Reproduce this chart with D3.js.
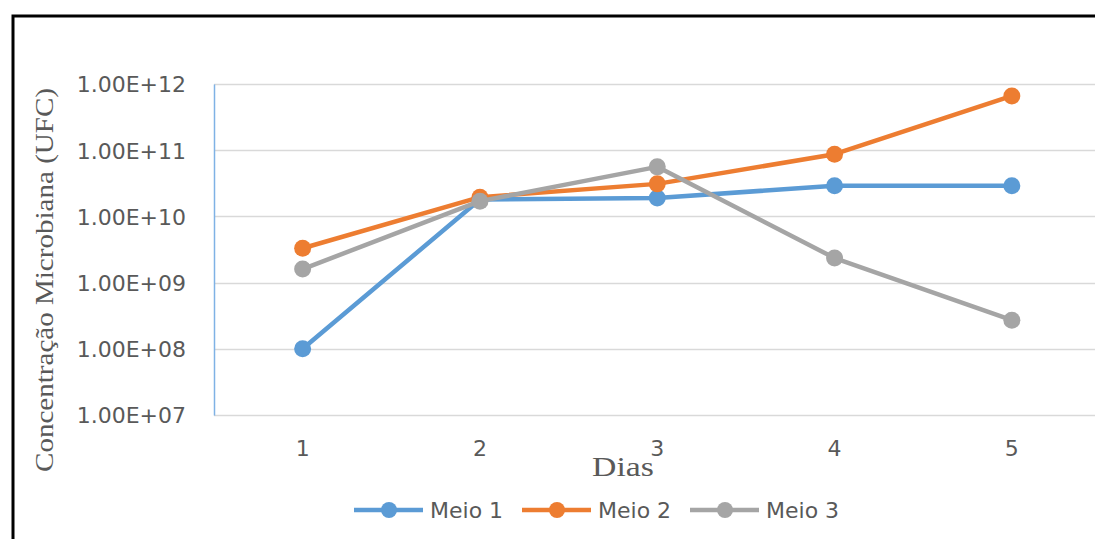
<!DOCTYPE html>
<html lang="pt">
<head>
	<meta charset="UTF-8">
	<title>Concentração Microbiana</title>
	<script src="https://cdn.jsdelivr.net/npm/d3@7"></script>
	<style>
		body { margin: 0; background: #fff; }
	</style>
</head>
<body>
	<svg id="svg"></svg>
	<script>
		var days = ["1", "2", "3", "4", "5"];
		var meio1 = [1.0e8, 1.8e10, 1.9e10, 2.9e10, 2.9e10];
		var meio2 = [3.3e9, 1.95e10, 3.1e10, 8.7e10, 6.6e11];
		var meio3 = [1.6e9, 1.7e10, 5.6e10, 2.35e9, 2.7e8];
		var yTicks = [1e7, 1e8, 1e9, 1e10, 1e11, 1e12];
		var seriesNames = ["Meio 1", "Meio 2", "Meio 3"];
		var colors = ["#5B9BD5", "#ED7D31", "#A5A5A5"];

		var w = 1095, h = 539;
		var svg = d3.select("#svg").attr("width", w).attr("height", h);
		var sans = "DejaVu Sans, Verdana, sans-serif",
			serif = "Liberation Serif, Times New Roman, serif",
			textColor = "#595959";

		// frame of the copied chart
		svg.append("rect")
			.attr("x", 13).attr("y", 16)
			.attr("width", 1200).attr("height", 600)
			.attr("fill", "none").attr("stroke", "#000").attr("stroke-width", 3);

		var plotLeft = 214, plotTop = 84, plotBottom = 415;
		var x = d3.scaleBand().domain(days).range([plotLeft, plotLeft + 5 * 177.3]);
		var y = d3.scaleLog().domain([1e7, 1e12]).range([plotBottom, plotTop]);

		// grid
		svg.append("g")
			.selectAll("line")
			.data(yTicks)
			.enter().append("line")
			.attr("x1", plotLeft).attr("x2", w)
			.attr("y1", function(d) { return Math.round(y(d)) + 0.5; })
			.attr("y2", function(d) { return Math.round(y(d)) + 0.5; })
			.attr("stroke", "#d9d9d9").attr("stroke-width", 1.3);

		var yAxis = svg.append("g")
			.attr("transform", "translate(" + plotLeft + ",0)")
			.call(d3.axisLeft(y).tickValues(yTicks).tickSize(0).tickPadding(28)
				.tickFormat(function(d) { return d.toExponential(2).toUpperCase().replace(/E\+(\d)$/, "E+0$1"); }));
		yAxis.select(".domain").attr("stroke", "#7fb2e5").attr("stroke-width", 1.5);
		yAxis.selectAll(".tick text")
			.attr("font-family", sans).attr("font-size", 22)
			.attr("fill", textColor).attr("dy", "0.36em");

		var xAxis = svg.append("g")
			.attr("transform", "translate(0," + plotBottom + ")")
			.call(d3.axisBottom(x).tickSize(0).tickPadding(25));
		xAxis.select(".domain").remove();
		xAxis.selectAll(".tick text")
			.attr("font-family", sans).attr("font-size", 22).attr("fill", textColor);

		// axis titles
		svg.append("text")
			.attr("transform", "translate(623,476) scale(1.25,1)")
			.attr("text-anchor", "middle")
			.attr("font-family", serif)
			.attr("font-size", 27).attr("fill", textColor)
			.text("Dias");
		svg.append("text")
			.attr("transform", "translate(53,280) rotate(-90)")
			.attr("text-anchor", "middle")
			.attr("font-family", serif)
			.attr("font-size", 26).attr("fill", textColor)
			.attr("textLength", 384).attr("lengthAdjust", "spacingAndGlyphs")
			.text("Concentração Microbiana (UFC)");

		var series = [meio1, meio2, meio3];
		var line = d3.line()
			.x(function(d, i) { return x(days[i]) + x.bandwidth() / 2; })
			.y(function(d) { return y(d); });

		series.forEach(function(values, s) {
			var g = svg.append("g");
			g.append("path")
				.attr("d", line(values))
				.attr("fill", "none")
				.attr("stroke", colors[s])
				.attr("stroke-width", 4.5)
				.attr("stroke-linejoin", "round");
			g.selectAll("circle")
				.data(values)
				.enter().append("circle")
				.attr("cx", function(d, i) { return x(days[i]) + x.bandwidth() / 2; })
				.attr("cy", function(d) { return y(d); })
				.attr("r", 8.5)
				.attr("fill", colors[s]);
		});

		// legend
		var legX = [354, 522, 690];
		var legend = svg.append("g");
		seriesNames.forEach(function(name, s) {
			var lg = legend.append("g").attr("transform", "translate(" + legX[s] + ",510)");
			lg.append("line").attr("x1", 0).attr("x2", 69)
				.attr("stroke", colors[s]).attr("stroke-width", 4.5);
			lg.append("circle").attr("cx", 35).attr("r", 8).attr("fill", colors[s]);
			lg.append("text").attr("x", 76).attr("dy", "0.36em")
				.attr("font-family", sans)
				.attr("font-size", 22).attr("fill", textColor)
				.text(name);
		});
	</script>
</body>
</html>
